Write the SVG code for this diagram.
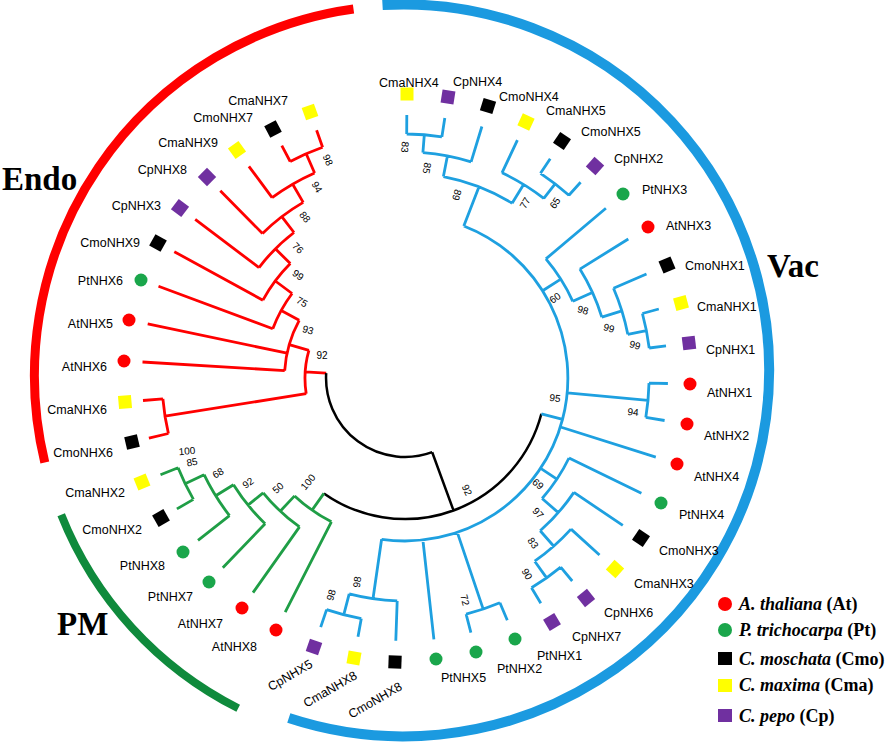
<svg xmlns="http://www.w3.org/2000/svg" width="886" height="748" viewBox="0 0 886 748">
<style>
.lb{font-family:"Liberation Sans",Arial,sans-serif;font-size:12.5px;fill:#000}
.e{text-anchor:end}
.m{text-anchor:middle}
.bs{font-family:"Liberation Sans",Arial,sans-serif;font-size:10px;fill:#000;text-anchor:middle}
.br{fill:none;stroke-width:2.8;stroke-linecap:butt;stroke-linejoin:miter}
.r{stroke:#ff0000}.g{stroke:#1f9e46}.b{stroke:#1ea0e0}.k{stroke:#000;stroke-width:2.5}
.mR{fill:#ff0000}.mG{fill:#1aa64b}.mK{fill:#000}.mY{fill:#ffff00}.mP{fill:#7030a0}
.cl{font-family:"Liberation Serif","Times New Roman",serif;font-weight:bold;font-size:33px;fill:#000}
.lg{font-family:"Liberation Serif","Times New Roman",serif;font-weight:bold;font-size:18px;fill:#000}
.arc{fill:none;stroke-linecap:butt}
</style>
<defs>
<rect id="sq" x="-6.5" y="-6.5" width="13" height="13"/>
<circle id="ci" r="6.5"/>
</defs>
<rect width="886" height="748" fill="#fff"/>

<g id="clade-bars">
<path class="arc" stroke="#ff0000" stroke-width="9" d="M44.8 462.5A370 370 0 0 1 353.5 9"/>
<path class="arc" stroke="#1b9ae0" stroke-width="10" d="M382.5 5A366 366 0 1 1 288.8 718.1"/>
<path class="arc" stroke="#0f8a3c" stroke-width="8" d="M238.2 708.3A370 370 0 0 1 61.2 514.8"/>
<text class="cl" x="2" y="190">Endo</text>
<text class="cl" x="767" y="277">Vac</text>
<text class="cl" x="57" y="635">PM</text>
</g>

<g id="connectors">
<path class="br r" d="M316.6 130.3L322.6 147.3M281.8 145.6L290.2 161.5M306.2 153.8L314.6 173M248.9 166.3L272.1 197.7M292.7 184.2L303.2 202.4M220.3 190.7L262.5 233.5M281.8 216.6L294 232.5M195.2 219.4L259 267.6M275.4 248.8L290.3 263.6M174.3 251.7L262.9 300.2M275.3 281L292.1 293.5M158.5 286.3L272.8 328.8M281.2 310.5L299.2 320.3M147.7 323.8L287.1 353.2M142.5 362L284.7 370.6M289.2 344.7L308.9 350.4M143 400.5L162.9 398.8M148.9 438.1L168.4 433.5M165 416.2L306.2 393.7M305.2 371.9L326.2 373.2
M290.2 161.5A245 245 0 0 1 322.6 147.3M272.1 197.7A224 224 0 0 1 314.6 173M262.5 233.5A203 203 0 0 1 303.2 202.4M259 267.6A183 183 0 0 1 294 232.5M262.9 300.2A162 162 0 0 1 290.3 263.6M272.8 328.8A141 141 0 0 1 292.1 293.5M284.7 370.6A120.5 120.5 0 0 1 299.2 320.3M168.4 433.5A243 243 0 0 1 162.9 398.8M306.2 393.7A100 100 0 0 1 308.9 350.4"/>
<path class="br k" d="M432.2 452.2A79 79 0 0 1 326.2 373.2M432.2 452.2L453.5 510.4M541.4 413.8A141 141 0 0 1 323.9 493.4"/>
<path class="br g" d="M160.5 474.8L178.1 467.8M176.9 508.9L193.4 499.4M185.1 483.8L204.1 474.7M198 540.3L229.5 515.6M215.7 495.8L233.5 484.7M222.8 567.7L265.1 523.7M248 505.1L263.2 492.8M253 592.6L299.5 526.9M280.2 511.2L294.6 495.9M285.2 612.1L331.4 521.8M312.1 510.1L323.9 493.4
M193.4 499.4A244 244 0 0 1 178.1 467.8M229.5 515.6A223 223 0 0 1 204.1 474.7M265.1 523.7A202 202 0 0 1 233.5 484.7M299.5 526.9A182.5 182.5 0 0 1 263.2 492.8M331.4 521.8A161.5 161.5 0 0 1 294.6 495.9"/>
<path class="br b" d="M320.7 627.1L326.6 609.6M358 636.8L361.3 618.6M343.8 614.7L349.2 593.9M395.8 640.8L397.2 600.9M373 598.7L381.6 539.3M433.9 639.4L422.9 540M470.9 632.6L466.1 614.2M507.3 620.3L499.9 602.8M483.2 609.1L457.3 532.4M540.8 603.2L531.5 587.8M572.2 581L560.7 567.1M546.6 577.9L534.7 561.2M599.5 555L571 529.1M553.8 546.2L540.2 530.8M622.8 525.4L573.9 492.4M558.3 512.6L542.1 498.5M641.4 493.3L569 458M556.9 479.1L540.7 468.3M655.8 457.1L560.5 427M664.6 420.5L645.8 417.4M667.9 383.5L649 383.1M648 400.3L567.3 392.9M666 345.9L649.2 348M658.8 309L642.4 313.5M646.4 330.6L627.8 334.3M646.5 274L613.5 288.2M621.9 310.9L601.8 317.1M628.3 239L579.9 269.1M592.4 292.4L572.8 301.3M605.9 208.2L545.9 258.9M560.8 279.1L542.6 290.7M580.6 182.2L568.9 195.3M550.2 158.7L540.5 173.3M555.1 183.8L543.8 198.4M517.4 140.2L502 172.8M523.6 184.5L512.1 203.2M481.9 126.5L471.1 161.9M444.8 118L441.9 136.8M406.8 115L406.7 134M424.3 134.8L422.9 152.7M447.4 156L443.4 176.6M479 186.8L463.8 226M562.7 419.4L541.4 413.8
M361.3 618.6A244.5 244.5 0 0 1 326.6 609.6M397.2 600.9A223 223 0 0 1 349.2 593.9M499.9 602.8A244 244 0 0 1 466.1 614.2M560.7 567.1A245 245 0 0 1 531.5 587.8M571 529.1A224.5 224.5 0 0 1 534.7 561.2M573.9 492.4A204 204 0 0 1 540.2 530.8M569 458A182.5 182.5 0 0 1 542.1 498.5M649 383.1A244 244 0 0 1 645.8 417.4M642.4 313.5A246 246 0 0 1 649.2 348M613.5 288.2A227 227 0 0 1 627.8 334.3M579.9 269.1A206 206 0 0 1 601.8 317.1M545.9 258.9A184.5 184.5 0 0 1 572.8 301.3M540.5 173.3A245.5 245.5 0 0 1 568.9 195.3M502 172.8A227 227 0 0 1 543.8 198.4M406.7 134A244 244 0 0 1 441.9 136.8M422.9 152.7A226 226 0 0 1 471.1 161.9M443.4 176.6A205 205 0 0 1 512.1 203.2M463.8 226A163 163 0 0 1 381.6 539.3"/>
</g>

<g id="bootstrap">
<text class="bs" transform="translate(328,160) rotate(66)" y="3.5">98</text>
<text class="bs" transform="translate(317,187) rotate(60)" y="3.5">94</text>
<text class="bs" transform="translate(305,217) rotate(53)" y="3.5">88</text>
<text class="bs" transform="translate(298,248) rotate(45)" y="3.5">76</text>
<text class="bs" transform="translate(298,275) rotate(37)" y="3.5">99</text>
<text class="bs" transform="translate(302,302) rotate(29)" y="3.5">75</text>
<text class="bs" transform="translate(308,330) rotate(16)" y="3.5">93</text>
<text class="bs" transform="translate(322,355)" y="3.5">92</text>
<text class="bs" transform="translate(187,451) rotate(-5)" y="3.5">100</text>
<text class="bs" transform="translate(192,462) rotate(-10)" y="3.5">85</text>
<text class="bs" transform="translate(218,473) rotate(-30)" y="3.5">68</text>
<text class="bs" transform="translate(248,483) rotate(-35)" y="3.5">92</text>
<text class="bs" transform="translate(278,488) rotate(-42)" y="3.5">50</text>
<text class="bs" transform="translate(308,482) rotate(-50)" y="3.5">100</text>
<text class="bs" transform="translate(467,490) rotate(65)" y="3.5">92</text>
<text class="bs" transform="translate(555,398) rotate(8)" y="3.5">95</text>
<text class="bs" transform="translate(633,412) rotate(5)" y="3.5">94</text>
<text class="bs" transform="translate(538,484) rotate(42)" y="3.5">69</text>
<text class="bs" transform="translate(538,513) rotate(48)" y="3.5">97</text>
<text class="bs" transform="translate(533,543) rotate(55)" y="3.5">83</text>
<text class="bs" transform="translate(527,574) rotate(60)" y="3.5">90</text>
<text class="bs" transform="translate(465,600) rotate(75)" y="3.5">72</text>
<text class="bs" transform="translate(357,582) rotate(-82)" y="3.5">98</text>
<text class="bs" transform="translate(331,595) rotate(-75)" y="3.5">98</text>
<text class="bs" transform="translate(555,298) rotate(-35)" y="3.5">60</text>
<text class="bs" transform="translate(583,310) rotate(15)" y="3.5">98</text>
<text class="bs" transform="translate(609,328) rotate(15)" y="3.5">99</text>
<text class="bs" transform="translate(635,345) rotate(15)" y="3.5">99</text>
<text class="bs" transform="translate(555,203) rotate(-55)" y="3.5">65</text>
<text class="bs" transform="translate(525,203) rotate(-60)" y="3.5">77</text>
<text class="bs" transform="translate(457,195) rotate(105)" y="3.5">89</text>
<text class="bs" transform="translate(427,168) rotate(100)" y="3.5">85</text>
<text class="bs" transform="translate(405,147) rotate(95)" y="3.5">83</text>
</g>

<g id="leaves">
<g id="CmaNHX7"><use href="#sq" class="mY" transform="translate(310,112) rotate(250)"/><text class="lb e" x="288" y="104.5">CmaNHX7</text></g>
<g id="CmoNHX7"><use href="#sq" class="mK" transform="translate(273,129) rotate(242)"/><text class="lb e" x="253" y="121.5">CmoNHX7</text></g>
<g id="CmaNHX9"><use href="#sq" class="mY" transform="translate(237,150) rotate(234)"/><text class="lb e" x="218" y="146.5">CmaNHX9</text></g>
<g id="CpNHX8"><use href="#sq" class="mP" transform="translate(207,177) rotate(225)"/><text class="lb e" x="187" y="173.5">CpNHX8</text></g>
<g id="CpNHX3"><use href="#sq" class="mP" transform="translate(180,208) rotate(217)"/><text class="lb e" x="161" y="209.5">CpNHX3</text></g>
<g id="CmoNHX9"><use href="#sq" class="mK" transform="translate(158,243) rotate(209)"/><text class="lb e" x="140" y="246.5">CmoNHX9</text></g>
<g id="PtNHX6"><use href="#ci" class="mG" transform="translate(141,280)"/><text class="lb e" x="123" y="284.5">PtNHX6</text></g>
<g id="AtNHX5"><use href="#ci" class="mR" transform="translate(129,320)"/><text class="lb e" x="113" y="327.5">AtNHX5</text></g>
<g id="AtNHX6"><use href="#ci" class="mR" transform="translate(124,361)"/><text class="lb e" x="107" y="370.5">AtNHX6</text></g>
<g id="CmaNHX6"><use href="#sq" class="mY" transform="translate(125,402) rotate(175)"/><text class="lb e" x="107" y="413.5">CmaNHX6</text></g>
<g id="CmoNHX6"><use href="#sq" class="mK" transform="translate(132,442) rotate(167)"/><text class="lb e" x="113" y="456.5">CmoNHX6</text></g>
<g id="CmaNHX2"><use href="#sq" class="mY" transform="translate(142,482) rotate(158)"/><text class="lb e" x="125" y="496.5">CmaNHX2</text></g>
<g id="CmoNHX2"><use href="#sq" class="mK" transform="translate(161,518) rotate(150)"/><text class="lb e" x="142" y="533.5">CmoNHX2</text></g>
<g id="PtNHX8"><use href="#ci" class="mG" transform="translate(183,552)"/><text class="lb e" x="165" y="569.5">PtNHX8</text></g>
<g id="PtNHX7"><use href="#ci" class="mG" transform="translate(209,582)"/><text class="lb e" x="193" y="600.5">PtNHX7</text></g>
<g id="AtNHX7"><use href="#ci" class="mR" transform="translate(242,608)"/><text class="lb e" x="223" y="627.5">AtNHX7</text></g>
<g id="AtNHX8"><use href="#ci" class="mR" transform="translate(276,630)"/><text class="lb e" x="257" y="650.5">AtNHX8</text></g>
<g id="CpNHX5"><use href="#sq" class="mP" transform="translate(314,647) rotate(109)"/><text class="lb m" transform="translate(290,675) rotate(-30)" y="4.5">CpNHX5</text></g>
<g id="CmaNHX8"><use href="#sq" class="mY" transform="translate(354,658) rotate(100)"/><text class="lb m" transform="translate(330,689) rotate(-30)" y="4.5">CmaNHX8</text></g>
<g id="CmoNHX8"><use href="#sq" class="mK" transform="translate(395,662) rotate(92)"/><text class="lb m" transform="translate(375,700) rotate(-30)" y="4.5">CmoNHX8</text></g>
<g id="PtNHX5"><use href="#ci" class="mG" transform="translate(436,659)"/><text class="lb" x="441" y="681.5">PtNHX5</text></g>
<g id="PtNHX2"><use href="#ci" class="mG" transform="translate(476,652)"/><text class="lb" x="497" y="672.5">PtNHX2</text></g>
<g id="PtNHX1"><use href="#ci" class="mG" transform="translate(515,639)"/><text class="lb" x="537" y="659.5">PtNHX1</text></g>
<g id="CpNHX7"><use href="#sq" class="mP" transform="translate(552,622) rotate(59)"/><text class="lb" x="572" y="640.5">CpNHX7</text></g>
<g id="CpNHX6"><use href="#sq" class="mP" transform="translate(586,598) rotate(51)"/><text class="lb" x="604" y="616.5">CpNHX6</text></g>
<g id="CmaNHX3"><use href="#sq" class="mY" transform="translate(615,569) rotate(42)"/><text class="lb" x="634" y="587.5">CmaNHX3</text></g>
<g id="CmoNHX3"><use href="#sq" class="mK" transform="translate(641,538) rotate(34)"/><text class="lb" x="659" y="554.5">CmoNHX3</text></g>
<g id="PtNHX4"><use href="#ci" class="mG" transform="translate(661,503)"/><text class="lb" x="679" y="518.5">PtNHX4</text></g>
<g id="AtNHX4"><use href="#ci" class="mR" transform="translate(677,464)"/><text class="lb" x="694" y="480.5">AtNHX4</text></g>
<g id="AtNHX2"><use href="#ci" class="mR" transform="translate(687,424)"/><text class="lb" x="704" y="439.5">AtNHX2</text></g>
<g id="AtNHX1"><use href="#ci" class="mR" transform="translate(690,384)"/><text class="lb" x="707" y="396.5">AtNHX1</text></g>
<g id="CpNHX1"><use href="#sq" class="mP" transform="translate(689,343) rotate(-7)"/><text class="lb" x="706" y="353.5">CpNHX1</text></g>
<g id="CmaNHX1"><use href="#sq" class="mY" transform="translate(681,303) rotate(-15)"/><text class="lb" x="697" y="310.5">CmaNHX1</text></g>
<g id="CmoNHX1"><use href="#sq" class="mK" transform="translate(667,265) rotate(-23)"/><text class="lb" x="685" y="269.5">CmoNHX1</text></g>
<g id="AtNHX3"><use href="#ci" class="mR" transform="translate(648,227)"/><text class="lb" x="666" y="229.5">AtNHX3</text></g>
<g id="PtNHX3"><use href="#ci" class="mG" transform="translate(623,194)"/><text class="lb" x="642" y="193.5">PtNHX3</text></g>
<g id="CpNHX2"><use href="#sq" class="mP" transform="translate(595,166) rotate(-48)"/><text class="lb" x="614" y="162.5">CpNHX2</text></g>
<g id="CmoNHX5"><use href="#sq" class="mK" transform="translate(562,141) rotate(-56)"/><text class="lb" x="581" y="135.5">CmoNHX5</text></g>
<g id="CmaNHX5"><use href="#sq" class="mY" transform="translate(526,122) rotate(-65)"/><text class="lb" x="546" y="114.5">CmaNHX5</text></g>
<g id="CmoNHX4"><use href="#sq" class="mK" transform="translate(488,106) rotate(-73)"/><text class="lb" x="499" y="100.5">CmoNHX4</text></g>
<g id="CpNHX4"><use href="#sq" class="mP" transform="translate(448,97) rotate(-81)"/><text class="lb" x="453" y="85.5">CpNHX4</text></g>
<g id="CmaNHX4"><use href="#sq" class="mY" transform="translate(407,94) rotate(-90)"/><text class="lb" x="379" y="86.5">CmaNHX4</text></g>
</g>

<g id="legend">
<circle class="mR" cx="725" cy="604" r="7"/>
<text class="lg" x="739" y="610"><tspan font-style="italic">A. thaliana</tspan> (At)</text>
<circle class="mG" cx="725" cy="630" r="7"/>
<text class="lg" x="739" y="636"><tspan font-style="italic">P. trichocarpa</tspan> (Pt)</text>
<rect class="mK" x="718" y="652" width="14" height="13"/>
<text class="lg" x="739" y="665"><tspan font-style="italic">C. moschata</tspan> (Cmo)</text>
<rect class="mY" x="718" y="679" width="14" height="13"/>
<text class="lg" x="739" y="691"><tspan font-style="italic">C. maxima</tspan> (Cma)</text>
<rect class="mP" x="718" y="709" width="14" height="13"/>
<text class="lg" x="739" y="722"><tspan font-style="italic">C. pepo</tspan> (Cp)</text>
</g>
</svg>
